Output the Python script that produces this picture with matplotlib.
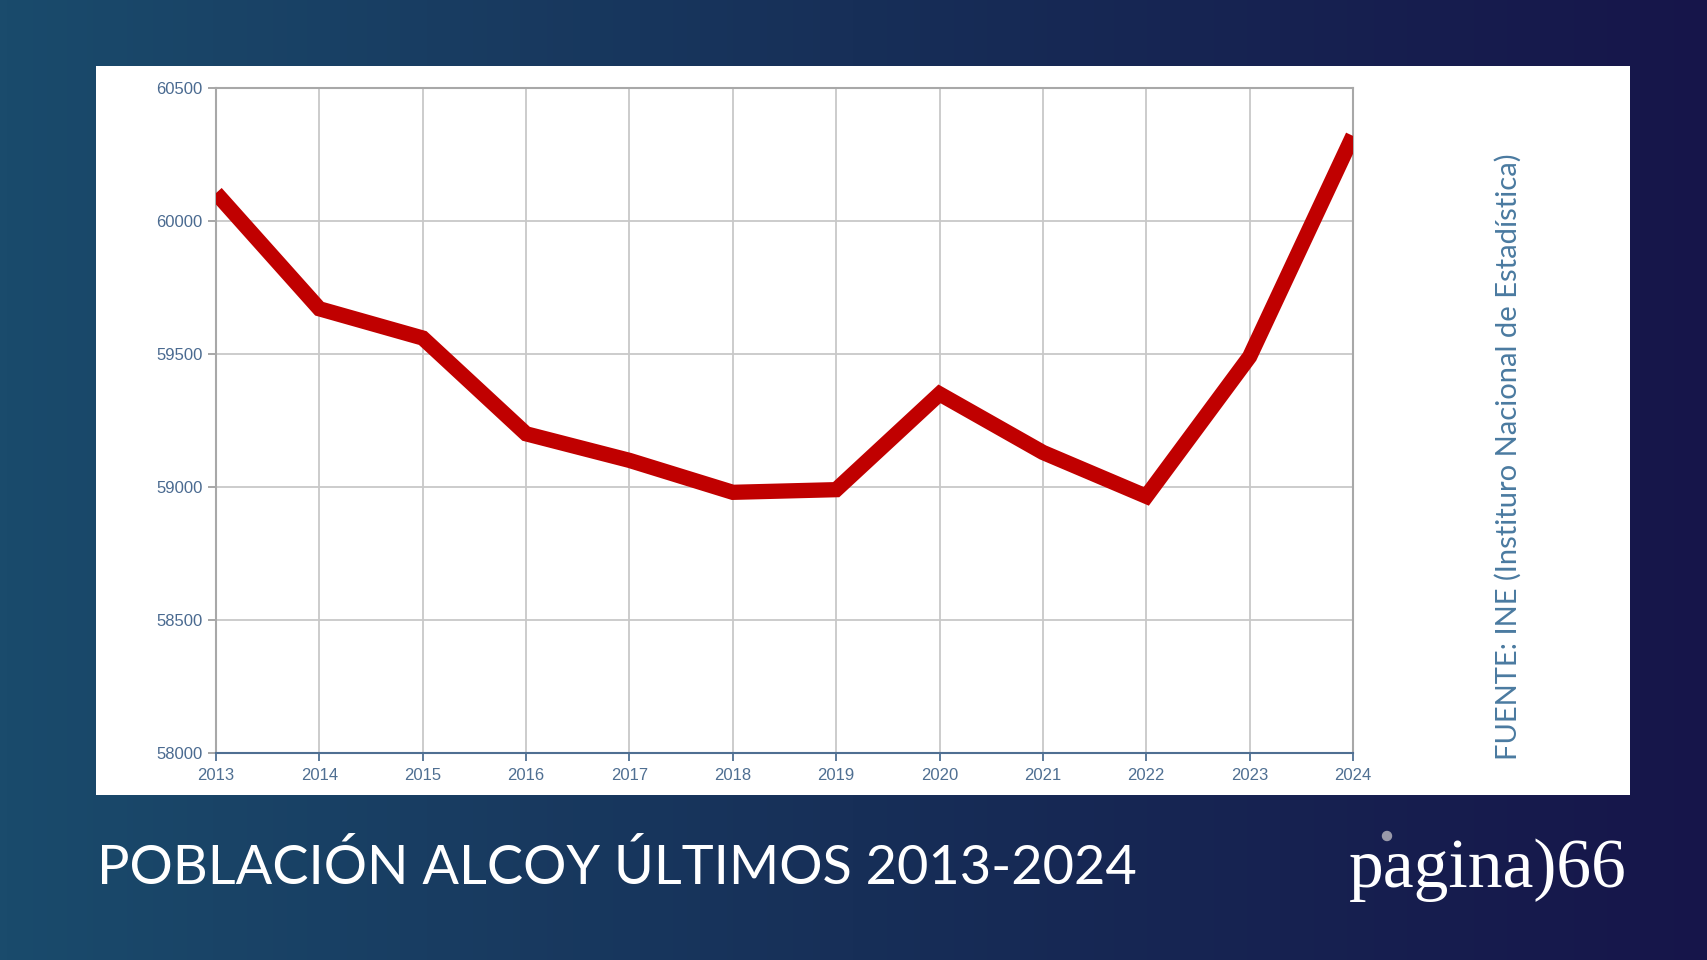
import numpy as np
import matplotlib.pyplot as plt
from matplotlib.colors import LinearSegmentedColormap
from matplotlib.patches import Ellipse

# Datos
years = [2013, 2014, 2015, 2016, 2017, 2018, 2019, 2020, 2021, 2022, 2023, 2024]
population = [60105, 59670, 59560, 59200, 59100, 58980, 58990, 59350, 59130, 58965, 59490, 60320]
y_ticks = [58000, 58500, 59000, 59500, 60000, 60500]

title = 'POBLACIÓN ALCOY ÚLTIMOS 2013-2024'
source = 'FUENTE: INE (Instituro Nacional de Estadística)'

W, H = 1707, 960
fig = plt.figure(figsize=(W / 100, H / 100), dpi=100)

# Fondo con degradado
bg = fig.add_axes([0, 0, 1, 1])
cmap = LinearSegmentedColormap.from_list('bg', ['#1a4b6c', '#172f58', '#16154a'])
bg.imshow(np.linspace(0, 1, 256)[None, :], cmap=cmap, aspect='auto', extent=[0, 1, 0, 1])
bg.set_xlim(0, 1)
bg.set_ylim(0, 1)
bg.axis('off')

# Panel blanco
px, py, pw, ph = 96, 66, 1630 - 96, 795 - 66
panel = fig.add_axes([px / W, 1 - (py + ph) / H, pw / W, ph / H])
panel.set_facecolor('white')
panel.set_xticks([])
panel.set_yticks([])
for s in panel.spines.values():
    s.set_visible(False)

# Gráfico
ax_l, ax_t, ax_r, ax_b = 216, 88, 1353, 753
ax = fig.add_axes([ax_l / W, 1 - ax_b / H, (ax_r - ax_l) / W, (ax_b - ax_t) / H])
ax.set_facecolor('none')
ax.plot(years, population, color='#c00000', lw=11, solid_joinstyle='miter', solid_capstyle='butt', zorder=3)
ax.set_xlim(2013, 2024)
ax.set_ylim(58000, 60500)
ax.set_xticks(years)
ax.set_yticks(y_ticks)
ax.grid(color='#c8c8c8', lw=1.3)
ax.tick_params(colors='#4f6f92', labelsize=12, length=6, width=1.3)
ax.tick_params(axis='x', pad=5)
ax.tick_params(axis='y', colors='#a0a0a0', labelcolor='#4a6a90')
for lab in ax.get_xticklabels() + ax.get_yticklabels():
    lab.set_fontfamily('Liberation Sans')
for side in ['left', 'top', 'right']:
    ax.spines[side].set_color('#a8a8a8')
    ax.spines[side].set_linewidth(1.5)
ax.spines['bottom'].set_color('#4f6f92')
ax.spines['bottom'].set_linewidth(1.5)

# Fuente
fig.text(1508 / W, 1 - 457 / H, source, rotation=90, ha='center', va='center',
         color='#4a7aa0', fontsize=21, family='Lato')

# Título
fig.text(97 / W, 1 - 867 / H, title, ha='left', va='center', color='white',
         fontsize=39, family='Lato')

# Logo
fig.text(1627 / W, 1 - 887 / H, 'pagina)66', ha='right', va='baseline', color='white',
         fontsize=50, family='Liberation Serif')
bg.add_patch(Ellipse((1387 / W, 1 - 836 / H), 9 / W, 9 / H, color='#9a9aaa', zorder=5))

fig.savefig('out.png', dpi=100)
